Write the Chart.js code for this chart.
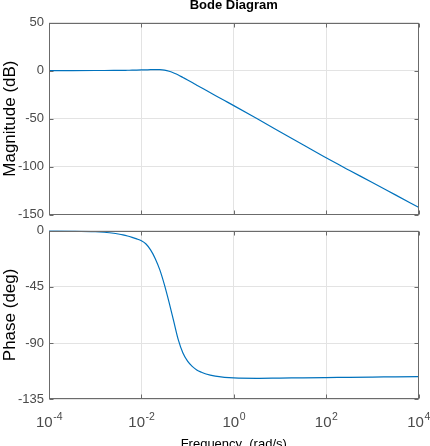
<!DOCTYPE html>
<html><head><meta charset="utf-8">
<script src="https://cdn.jsdelivr.net/npm/chart.js@4.4.0/dist/chart.umd.min.js"></script>
<style>
html,body{margin:0;padding:0;background:#fff;width:430px;height:446px;overflow:hidden;position:relative;}
#c1{position:absolute;left:0;top:0;}
#c2{position:absolute;left:0;top:222px;}
</style></head><body>
<canvas id="c1" width="430" height="222"></canvas>
<canvas id="c2" width="430" height="230"></canvas>
<script>
const frequencies = [1e-4, 3.16e-4, 1e-3, 1.58e-3, 2.51e-3, 3.16e-3, 3.98e-3, 5.01e-3, 6.31e-3, 7.94e-3, 1e-2, 1.26e-2, 1.58e-2, 2e-2, 2.51e-2, 3.16e-2, 3.98e-2, 5.01e-2, 6.31e-2, 7.94e-2, 0.1, 0.126, 0.158, 0.2, 0.251, 0.398, 0.631, 1, 3.16, 10, 31.6, 100, 316, 1000, 3160, 10000];
// Magnitude (dB)
const magnitudeDb = [0, 0.01, 0.04, 0.07, 0.12, 0.16, 0.22, 0.3, 0.38, 0.48, 0.6, 0.75, 0.9, 1.0, 0.9, 0.4, -0.7, -2.5, -4.6, -7.2, -9.8, -12.5, -15.2, -17.9, -20.6, -25.9, -31.2, -36.5, -50.0, -63.6, -77.2, -90.8, -103.7, -116.5, -129.4, -142.3];
// Phase (deg)
const phaseDeg = [-0.2, -0.4, -0.9, -1.4, -2.2, -2.8, -3.5, -4.4, -5.5, -6.7, -8.2, -10.8, -15.5, -22.5, -31.5, -43.5, -57.5, -72.5, -87.5, -98, -104.5, -108.7, -111.5, -113.4, -114.8, -116.5, -117.4, -117.9, -118.2, -118.0, -117.8, -117.6, -117.4, -117.2, -117.0, -116.8];

const freqTicks = [1e-4, 1e-2, 1, 1e2, 1e4];
const freqTickBase = ['10', '10', '10', '10', '10'];
const freqTickExp = ['-4', '-2', '0', '2', '4'];
const magTicks = [50, 0, -50, -100, -150];
const phaseTicks = [0, -45, -90, -135];

const LINE = '#0072BD';
const GRID = '#e3e3e3';
const FRAME = '#6b6b6b';
const TICKTXT = '#4a4a4a';
const FONT = "'Liberation Sans', Arial, sans-serif";

const framePlugin = {
  id: 'frame',
  afterDraw(chart) {
    const ctx = chart.ctx, a = chart.chartArea;
    const l = Math.round(a.left) + 0.5, r = Math.round(a.right) - 0.5;
    const t = Math.round(a.top) + 0.5, b = Math.round(a.bottom) - 0.5;
    ctx.save();
    ctx.strokeStyle = FRAME;
    ctx.lineWidth = 1;
    ctx.strokeRect(l, t, r - l, b - t);
    const xs = chart.scales.x, ys = chart.scales.y;
    ctx.beginPath();
    xs.ticks.forEach(tk => {
      const px = Math.round(xs.getPixelForValue(tk.value)) + 0.5;
      ctx.moveTo(px, b); ctx.lineTo(px, b - 4);
      ctx.moveTo(px, t); ctx.lineTo(px, t + 4);
    });
    ys.ticks.forEach(tk => {
      const py = Math.round(ys.getPixelForValue(tk.value)) + 0.5;
      ctx.moveTo(l, py); ctx.lineTo(l + 4, py);
      ctx.moveTo(r, py); ctx.lineTo(r - 4, py);
    });
    ctx.stroke();
    // power-of-ten tick labels with superscript exponents
    if (chart.options.plugins.frame && chart.options.plugins.frame.powerLabels) {
      const baseY = a.bottom + 27.5;
      ctx.fillStyle = TICKTXT;
      ctx.textBaseline = 'alphabetic';
      ctx.textAlign = 'left';
      freqTicks.forEach((v, i) => {
        const px = xs.getPixelForValue(v);
        ctx.font = '15px ' + FONT;
        const wb = ctx.measureText(freqTickBase[i]).width;
        ctx.font = '10.5px ' + FONT;
        const we = ctx.measureText(freqTickExp[i]).width;
        const x0 = px - (wb + we) / 2;
        ctx.font = '15px ' + FONT;
        ctx.fillText(freqTickBase[i], x0, baseY);
        ctx.font = '10.5px ' + FONT;
        ctx.fillText(freqTickExp[i], x0 + wb + 0.5, baseY - 7);
      });
    }
    ctx.restore();
  }
};

function xScale(showTitle) {
  return {
    type: 'logarithmic', min: 1e-4, max: 1e4,
    afterBuildTicks: s => { s.ticks = freqTicks.map(v => ({ value: v })); },
    afterFit: s => { s.height = showTitle ? 52.7 : 0; s.paddingLeft = 0; s.paddingRight = 0; },
    grid: { color: GRID, drawTicks: false, lineWidth: 1 },
    border: { display: false },
    ticks: { display: false },
    title: {
      display: showTitle, text: 'Frequency  (rad/s)', color: '#000',
      font: { family: FONT, size: 13 }, padding: { top: 0, bottom: 0 }
    }
  };
}

function yScale(min, max, ticksArr, title) {
  return {
    type: 'linear', min: min, max: max,
    afterBuildTicks: s => { s.ticks = ticksArr.map(v => ({ value: v })); },
    afterFit: s => { s.width = 49; s.paddingTop = 0; s.paddingBottom = 0; },
    grid: { color: GRID, drawTicks: false, lineWidth: 1 },
    border: { display: false },
    ticks: { padding: 5, color: TICKTXT, font: { family: FONT, size: 13 } },
    title: { display: true, text: title, color: '#000', font: { family: FONT, size: 17 }, padding: 0 }
  };
}

const commonDs = { borderColor: LINE, borderWidth: 1.2, pointRadius: 0, fill: false, cubicInterpolationMode: 'monotone' };

new Chart(document.getElementById('c1'), {
  type: 'line',
  data: { datasets: [Object.assign({ data: frequencies.map((f, i) => ({ x: f, y: magnitudeDb[i] })) }, commonDs)] },
  options: {
    responsive: false, animation: false, devicePixelRatio: 1,
    layout: { padding: { left: 0, right: 11.5, top: 0, bottom: 7.3 } },
    plugins: {
      legend: { display: false }, tooltip: { enabled: false },
      frame: { powerLabels: false },
      title: {
        display: true, text: 'Bode Diagram', color: '#000', fullSize: false,
        font: { family: FONT, size: 13, weight: 'bold' },
        padding: { top: -2, bottom: 8.9 }
      }
    },
    scales: { x: xScale(false), y: yScale(-150, 50, magTicks, 'Magnitude (dB)') }
  },
  plugins: [framePlugin]
});

new Chart(document.getElementById('c2'), {
  type: 'line',
  data: { datasets: [Object.assign({ data: frequencies.map((f, i) => ({ x: f, y: phaseDeg[i] })) }, commonDs)] },
  options: {
    responsive: false, animation: false, devicePixelRatio: 1,
    layout: { padding: { left: 0, right: 11.5, top: 8.5, bottom: 0 } },
    plugins: { legend: { display: false }, tooltip: { enabled: false }, frame: { powerLabels: true } },
    scales: { x: xScale(true), y: yScale(-135, 0, phaseTicks, 'Phase (deg)') }
  },
  plugins: [framePlugin]
});
</script>
</body></html>
